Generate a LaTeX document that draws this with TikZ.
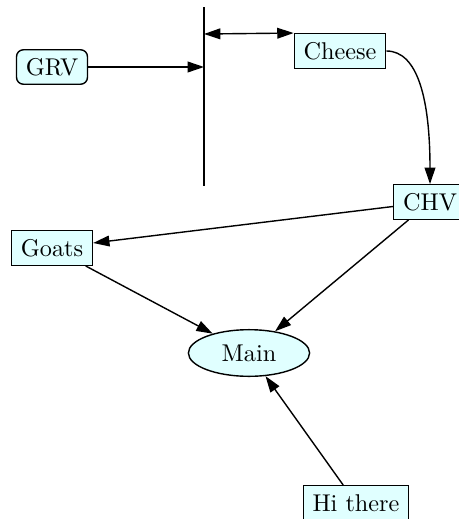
\documentclass[tikz,border=0pt]{standalone}
\usepackage{xcolor}
\usepackage{tikz}
\usetikzlibrary{shapes,arrows.meta,positioning}

\definecolor{boxfill}{HTML}{E0FFFF}

\begin{document}
\begin{tikzpicture}[
    x=0.429pt, y=-0.429pt,
    font=\fontsize{10.4}{12.5}\selectfont,
    block/.style={draw, fill=boxfill, semithick, minimum height=14.8pt, inner xsep=4pt, inner ysep=0pt},
    rblock/.style={block, rounded corners=3pt},
    oval/.style={draw, fill=boxfill, semithick, ellipse, minimum width=52pt, minimum height=20pt, inner sep=0pt},
    arrow/.style={-{Triangle[length=7pt,width=4.6pt]}, semithick}
]
    \useasboundingbox (0,0) rectangle (458,519);

    % Barrier
    \coordinate (bartop) at (204,7);
    \coordinate (barbot) at (204,186);
    \coordinate (barhit) at (204,67);
    \coordinate (bardbl) at (204,34);
    \draw[semithick] (bartop) -- (barbot);

    % Nodes
    \node[rblock] (grv) at (52,67) {GRV};
    \node[block] (cheese) at (340,51) {Cheese};
    \node[block] (chv) at (430,202) {CHV};
    \node[block] (goats) at (52,248) {Goats};
    \node[oval] (main) at (249,353) {Main};
    \node[block] (hi) at (356,503) {Hi there};

    % Arrows
    \draw[arrow] (grv) -- (barhit);
    \draw[arrow, {Triangle[length=7pt,width=4.6pt]}-{Triangle[length=7pt,width=4.6pt]}] (bardbl) -- (cheese.north west);
    \draw[arrow] (cheese.east) .. controls (418,51) and (430,100) .. (chv.north);
    \draw[arrow] (chv) -- (goats);
    \draw[arrow] (goats) -- (main);
    \draw[arrow] (chv) -- (main);
    \draw[arrow] (hi) -- (main);

\end{tikzpicture}
\end{document}
